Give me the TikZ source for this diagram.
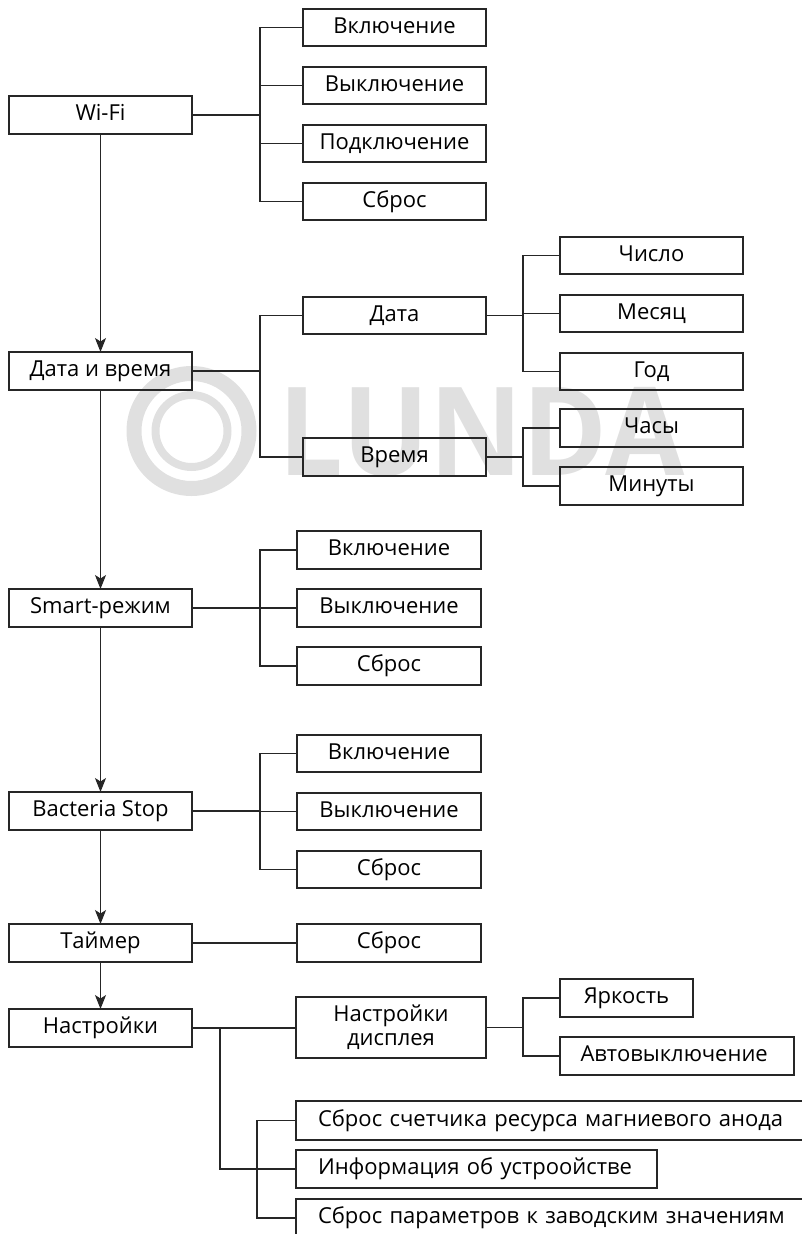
\documentclass[tikz,border=0pt]{standalone}
\usepackage{fontspec}
\usepackage{graphicx}
\setmainfont{Open Sans}
\usetikzlibrary{arrows.meta}
\tikzset{
  x=1pt,y=-1pt,
  wire/.style={draw=black!85,line width=1.3pt},
  arr/.style={wire,-{Stealth[length=14pt,width=11pt,inset=3.5pt]}},
  bx/.style={draw=black!85,line width=1.3pt,anchor=north west,inner sep=0pt,outer sep=0pt,align=center,text height=16pt,text depth=5pt,font=\fontsize{22}{24}\selectfont},
  opn/.style={bx,align=left}
}
\begin{document}
\begin{tikzpicture}
\useasboundingbox (0,0) rectangle (802,1234);
\clip (0,0) rectangle (802,1234);
% watermark
\fill[black!12,even odd rule] (191.5,431) circle[radius=65] (191.5,431) circle[radius=50];
\fill[black!12,even odd rule] (191.5,431) circle[radius=40] (191.5,431) circle[radius=32];
\node[text=black!12,font=\fontsize{123}{123}\selectfont\bfseries,inner sep=0pt,anchor=base west] (wm) at (278,475) {\scalebox{0.935}[1]{LUNDA}};
% left column
\foreach \n/\ya/\yb/\t in {wifi/96/134/Wi-Fi,date/352/390/Дата и время,smart/589/627/Smart-режим,bact/792/830/Bacteria Stop,tim/924/962/Таймер,sett/1009/1047/Настройки}{
  \node[bx,minimum width=183,minimum height=\yb-\ya] (\n) at (9,\ya) {\t};
}
% second column
\foreach \n/\xa/\xb/\ya/\yb/\t in {
 wa/303/486/9/46/Включение,wb/303/486/67/104/Выключение,wc/303/486/125/162/Подключение,wd/303/486/183/220/Сброс,
 da/303/486/297/334/Дата,db/303/486/438/476/Время,
 ca/560/743/237/274/Число,cb/560/743/295/332/Месяц,cc/560/743/353/390/Год,cd/560/743/409/447/Часы,ce/560/743/467/505/Минуты,
 sa/297/481/531/569/Включение,sb/297/481/589/627/Выключение,sc/297/481/647/685/Сброс,
 ba/297/481/735/772/Включение,bb/297/481/793/830/Выключение,bc/297/481/851/888/Сброс,
 ta/297/481/924/962/Сброс,
 nb/560/693/979/1017/Яркость,nc/560/794/1037/1075/Автовыключение
 }{
  \node[bx,minimum width=\xb-\xa,minimum height=\yb-\ya] (\n) at (\xa,\ya) {\t};
}
\node[bx,text height=,text depth=,minimum width=190,minimum height=61] (na) at (296,997) {Настройки\\дисплея};
% open boxes
\node[opn,minimum width=520,text width=520,minimum height=39] (ra) at (296,1101) {\hspace*{22pt}Сброс счетчика ресурса магниевого анода};
\node[opn,minimum width=361,text width=361,minimum height=38] (rb) at (296,1150) {\hspace*{22pt}Информация об устроойстве};
\node[opn,minimum width=520,text width=520,minimum height=38] (rc) at (296,1199) {\hspace*{22pt}Сброс параметров к заводским значениям};
% arrows
\foreach \a/\b in {wifi/date,date/smart,smart/bact,bact/tim,tim/sett}{ \draw[arr] (\a) -- (\b); }
% trees
\foreach \p/\q/\j in {wifi/wa/260,wifi/wb/260,wifi/wc/260,wifi/wd/260,date/da/260,date/db/260,da/ca/523,da/cb/523,da/cc/523,db/cd/523,db/ce/523,smart/sa/260,smart/sb/260,smart/sc/260,bact/ba/260,bact/bb/260,bact/bc/260,na/nb/523,na/nc/523}{
  \draw[wire] (\p.east) -- (\j,0 |- \p.east) -- (\j,0 |- \q.west) -- (\q.west);
}
\draw[wire] (tim.east) -- (ta.west);
\draw[wire] (sett.east) -- (na.west |- sett.east);
\coordinate (j1) at (220,1029);
\draw[wire] (j1) -- (j1 |- rb.west) -- (rb.west);
\coordinate (j2) at (257,1169);
\draw[wire] (ra.west) -- (j2 |- ra.west) -- (j2 |- rc.west) -- (rc.west);
\end{tikzpicture}
\end{document}
